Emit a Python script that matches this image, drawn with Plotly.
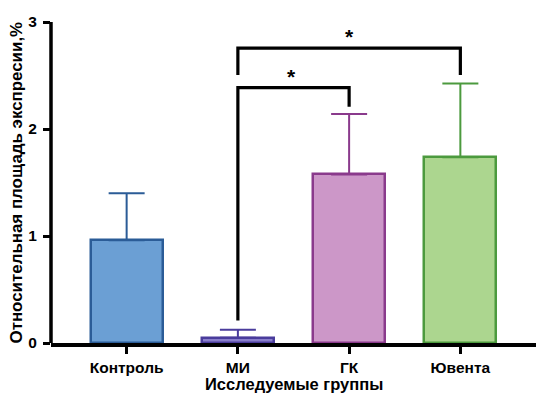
import plotly.graph_objects as go

categories = ["Контроль", "МИ", "ГК", "Ювента"]
means = [0.96, 0.05, 1.575, 1.735]
sd_up = [0.44, 0.075, 0.565, 0.69]
fill_colors = ["#6b9fd4", "#8a7fcc", "#cc97c8", "#acd68f"]
line_colors = ["#2b5c97", "#4a3c9c", "#8a3a8c", "#4c9a3e"]

# significance brackets: (left idx, right idx, top y, left foot y, right foot y, star y)
brackets = [
    (1, 2, 2.386, 0.21, 2.208, 2.49),
    (1, 3, 2.755, 2.505, 2.505, 2.865),
]
star_x = [1.48, 2.0]
y_ticks = [0, 1, 2, 3]

fig = go.Figure()
for i, cat in enumerate(categories):
    fig.add_trace(go.Bar(
        x=[i], y=[means[i]], width=0.645,
        marker=dict(color=fill_colors[i], line=dict(color=line_colors[i], width=2.5)),
        error_y=dict(type="data", symmetric=False, array=[sd_up[i]], arrayminus=[0],
                     color=line_colors[i], thickness=2, width=18),
        showlegend=False, hoverinfo="skip",
    ))

for (a, b, top, fl, fr, sy), sx in zip(brackets, star_x):
    fig.add_trace(go.Scatter(
        x=[a, a, b, b], y=[fl, top, top, fr], mode="lines",
        line=dict(color="black", width=3.2), showlegend=False, hoverinfo="skip",
    ))
    fig.add_annotation(x=sx, y=sy, text="<b>*</b>", showarrow=False,
                       font=dict(size=21, color="black", family="Liberation Sans"),
                       xref="x", yref="y")

fig.add_annotation(text="<b>Исследуемые группы</b>", xref="paper", yref="paper",
                   x=0.5, y=0, yanchor="middle", yshift=-41, showarrow=False,
                   font=dict(size=16.5, family="Liberation Sans", color="black"))
fig.add_annotation(text="<b>Относительная площадь экспресии,%</b>", xref="paper", yref="paper",
                   x=0, y=0.5, xanchor="center", xshift=-35, textangle=-90, showarrow=False,
                   font=dict(size=16.9, family="Liberation Sans", color="black"))

# y axis spine drawn as a layout shape
fig.add_shape(type="line", xref="paper", yref="paper", x0=0, x1=0, y0=0, y1=1,
              line=dict(color="black", width=3.5), layer="above")

fig.update_layout(
    width=539, height=411,
    margin=dict(l=51, r=3, t=22, b=68, autoexpand=False),
    plot_bgcolor="white", paper_bgcolor="white",
    font=dict(family="Liberation Sans", color="black"),
    bargap=0,
)
fig.update_xaxes(
    range=[-0.68, 3.68], tickmode="array", tickvals=list(range(len(categories))),
    ticktext=["<b>%s</b>" % c for c in categories],
    tickfont=dict(size=15.5, family="Liberation Sans"),
    showline=True, linecolor="black", linewidth=4,
    ticks="outside", ticklen=7, tickwidth=3, tickcolor="black",
    showgrid=False, zeroline=False, automargin=False,
)
fig.update_yaxes(
    range=[0, 3], tickmode="array", tickvals=y_ticks,
    ticktext=["<b>%d</b>" % v for v in y_ticks],
    tickfont=dict(size=15.5, family="Liberation Sans"),
    showline=False,
    ticks="outside", ticklen=7, tickwidth=3, tickcolor="black",
    ticklabelstandoff=3,
    showgrid=False, zeroline=False, automargin=False,
)

fig.write_html("out.html", config={"displayModeBar": False},
               post_script="document.body.style.margin='0';")
